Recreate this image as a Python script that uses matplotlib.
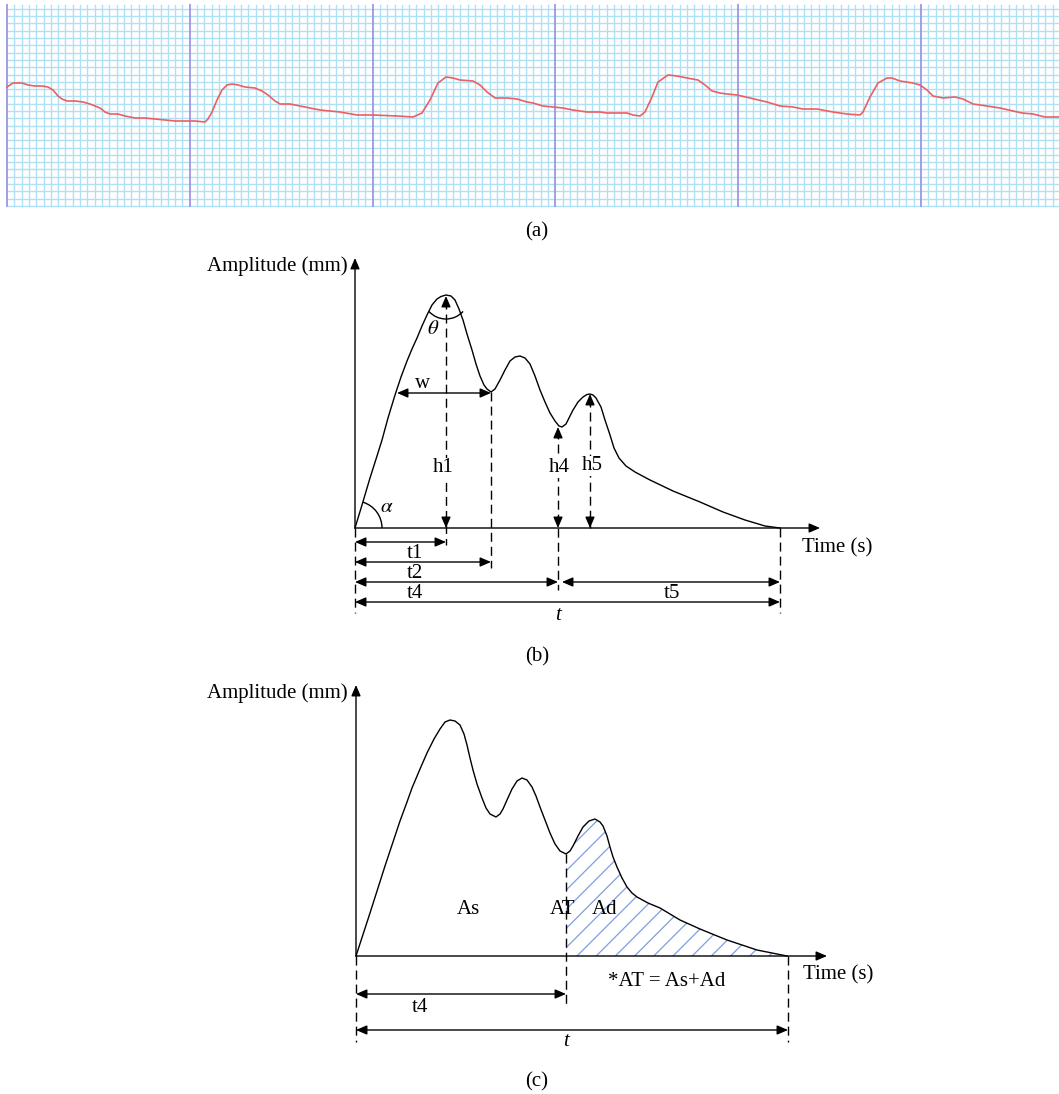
import matplotlib
matplotlib.use("Agg")
import matplotlib.pyplot as plt
from matplotlib.patches import Polygon, Arc

plt.rcParams['font.family'] = ['Liberation Serif', 'DejaVu Serif']

# ---- panel (a): recorded trace (pixel coords, y down) ----
ecg_x = [7, 10, 13, 22, 28, 35, 42, 48, 53, 58,
         62, 67, 75, 83, 90, 100, 105, 110, 118, 125,
         135, 145, 155, 165, 175, 185, 195, 205, 208, 212,
         217, 222, 227, 232, 238, 245, 255, 262, 268, 275,
         280, 290, 300, 310, 320, 330, 340, 357, 373, 397,
         413, 422, 430, 438, 446, 453, 460, 473, 480, 487,
         495, 507, 517, 527, 533, 543, 553, 563, 573, 587,
         600, 607, 627, 633, 640, 645, 652, 658, 668, 677,
         687, 698, 705, 712, 720, 727, 737, 750, 767, 780,
         793, 803, 817, 833, 847, 860, 863, 870, 878, 887,
         892, 900, 913, 920, 927, 933, 943, 955, 963, 973,
         987, 1000, 1013, 1022, 1033, 1045, 1059]
ecg_y = [87, 85, 83, 83, 85, 86, 86, 87, 90, 96,
         99, 101, 101, 102, 104, 108, 112, 114, 114, 116,
         118, 118, 119, 120, 121, 121, 121, 122, 119, 112,
         100, 90, 85, 84, 85, 87, 88, 91, 95, 101,
         104, 104, 106, 108, 110, 111, 112, 115, 115, 116,
         117, 113, 100, 83, 77, 78, 80, 81, 85, 92,
         98, 98, 99, 102, 103, 106, 107, 108, 110, 112,
         112, 113, 113, 115, 116, 112, 97, 82, 75, 76,
         78, 80, 85, 91, 93, 94, 95, 98, 102, 106,
         107, 109, 109, 112, 114, 115, 112, 97, 83, 78,
         78, 81, 83, 85, 90, 96, 98, 97, 99, 104,
         106, 108, 111, 113, 114, 117, 117]

# ---- panel (b): schematic pulse ----
b_x = [355, 362, 370, 377, 382, 388, 395, 401, 407, 412, 417, 422, 427, 432, 437,
       441, 446, 451, 455, 459, 463, 467, 472, 476, 480, 484, 487, 491, 495, 500,
       505, 510, 515, 520, 525, 530, 535, 540, 545, 550, 555, 559, 562, 566, 570,
       573, 578, 583, 587, 590, 593, 596, 601, 605, 610, 614, 619, 626, 635, 650,
       673, 700, 723, 745, 765, 780]
b_y = [528, 505, 478, 456, 440, 418, 395, 377, 361, 349, 338, 326, 315, 305, 299,
       296.5, 295, 296, 300, 309, 320, 334, 350, 364, 376, 385, 389, 392, 389, 380,
       370, 361, 357, 356, 358, 364, 376, 390, 402, 413, 421, 426, 427, 424, 416,
       410, 402, 397, 394.5, 394, 395, 398, 407, 420, 435, 448, 458, 466, 472, 480,
       491, 502, 512, 520, 526, 528]

# ---- panel (c): schematic pulse ----
c_x = [356, 370, 385, 400, 407, 412, 420, 427, 434, 440, 445, 450, 455, 460, 464,
       467, 470, 473, 477, 482, 486, 490, 496, 500, 503, 507, 512, 517, 522, 527,
       532, 536, 540, 545, 550, 555, 560, 566, 570, 573, 578, 583, 589, 595, 600,
       603, 607, 610, 613, 617, 622, 627, 632, 637, 648, 660, 680, 700, 727, 757, 787]
c_y = [956, 913, 866, 821, 802, 788, 769, 753, 739, 729, 722, 720, 721, 725, 734,
       745, 758, 770, 784, 798, 808, 814, 817, 814, 809, 800, 789, 781, 778, 780,
       787, 796, 807, 820, 833, 844, 851, 854, 851, 846, 836, 827, 821, 819, 822,
       826, 836, 847, 857, 867, 878, 887, 893, 897, 903, 908, 920, 929, 940, 950, 956]

fig = plt.figure(figsize=(10.59, 10.94), dpi=100)
ax = fig.add_axes([0, 0, 1, 1])
ax.set_xlim(0, 1059)
ax.set_ylim(1094, 0)
ax.axis('off')

FS = 15
DASH = (6.5, 3.6)


def arrow(x0, y0, x1, y1, style='-|>'):
    ax.annotate('', xy=(x1, y1), xytext=(x0, y0),
                arrowprops=dict(arrowstyle=style + ',head_length=0.65,head_width=0.28',
                                color='k', lw=1.0, shrinkA=0, shrinkB=0,
                                mutation_scale=10))


def dashed(x, y0, y1):
    ax.plot([x, x], [y0, y1], color='k', lw=1.0, dashes=DASH)


def label(x, y, s, **kw):
    # small downward nudge: glyphs without descenders sit high with va='center'
    ax.text(x, y + 3, s, fontsize=FS, ha='center', va='center', **kw)


# ---- (a) grid paper ----
step = (921 - 7) / 5 / 25
i = 0
while 7 + i * step <= 1059:
    gx = 7 + i * step
    if i % 25 == 0:
        ax.plot([gx, gx], [5, 206], color='#9d95e2', lw=1.3, zorder=2)
    else:
        ax.plot([gx, gx], [5, 206], color='#b0e0f3', lw=1.0, zorder=1)
    i += 1
gy = 206.0
while gy >= 5:
    ax.plot([7, 1059], [gy, gy], color='#b0e0f3', lw=1.0, zorder=1)
    gy -= 7.3
ax.plot(ecg_x, ecg_y, color='#ec5f63', lw=1.2, zorder=3)
ax.text(537, 232, '(a)', fontsize=FS, ha='center', va='center')

# ---- (b) ----
arrow(355, 528, 355, 258)
arrow(355, 528, 820, 528)
ax.text(348, 266, 'Amplitude (mm)', fontsize=FS, ha='right', va='center')
ax.text(802, 548, 'Time (s)', fontsize=FS, ha='left', va='center')
ax.plot(b_x, b_y, color='k', lw=1.0)

dashed(446, 300, 545)
dashed(491, 392, 568)
dashed(558, 430, 590)
dashed(590, 398, 528)
dashed(355, 528, 613)
dashed(780, 528, 613)

for hx, top in [(446, 296), (558, 427), (590, 394)]:
    arrow(hx, top + 11, hx, top)
    arrow(hx, 517, hx, 528)

arrow(397, 393, 491, 393, '<|-|>')
arrow(355, 542, 446, 542, '<|-|>')
arrow(355, 562, 491, 562, '<|-|>')
arrow(355, 582, 558, 582, '<|-|>')
arrow(562, 582, 780, 582, '<|-|>')
arrow(355, 602, 780, 602, '<|-|>')

ax.add_patch(Arc((446, 296), 46, 46, theta1=42, theta2=138, color='k', lw=1.0))
ax.add_patch(Arc((355, 528), 54, 54, theta1=-73, theta2=0, color='k', lw=1.0))

box = dict(facecolor='white', edgecolor='none', pad=0.6)
ax.text(433, 330, r'$\theta$', fontsize=FS, ha='center', va='center',
        math_fontfamily='stix')
ax.text(387, 508, r'$\alpha$', fontsize=FS, ha='center', va='center',
        math_fontfamily='stix')
label(423, 381, 'w')
label(443, 465, 'h1', bbox=box)
label(559, 465, 'h4', bbox=box)
label(592, 463, 'h5', bbox=box)
label(415, 550, 't1')
label(415, 570, 't2')
label(415, 590, 't4')
label(672, 590, 't5')
label(558, 612, 't', style='italic')
ax.text(537, 657, '(b)', fontsize=FS, ha='center', va='center')

# ---- (c) ----
hx_pts = [(x, y) for x, y in zip(c_x, c_y) if x >= 566]
poly = Polygon(hx_pts + [(787, 956), (566, 956)], closed=True,
               facecolor='none', edgecolor='none')
ax.add_patch(poly)
for k in range(-14, 12):
    x0 = 577 + k * 19.2
    ln, = ax.plot([x0, x0 + 300], [956, 656], color='#7f9ede', lw=0.9)
    ln.set_clip_path(poly)

arrow(356, 956, 356, 685)
arrow(356, 956, 827, 956)
ax.text(348, 693, 'Amplitude (mm)', fontsize=FS, ha='right', va='center')
ax.text(803, 975, 'Time (s)', fontsize=FS, ha='left', va='center')
ax.plot(c_x, c_y, color='k', lw=1.0)

dashed(566, 854, 1007)
dashed(356, 956, 1042)
dashed(788, 956, 1042)
arrow(356, 994, 566, 994, '<|-|>')
arrow(356, 1030, 788, 1030, '<|-|>')

label(468, 907, 'As')
label(563, 907, 'AT')
label(605, 907, 'Ad')
label(667, 978, '*AT = As+Ad')
label(420, 1004, 't4')
label(566, 1039, 't', style='italic')
ax.text(537, 1082, '(c)', fontsize=FS, ha='center', va='center')

fig.savefig('out.png', dpi=100)
